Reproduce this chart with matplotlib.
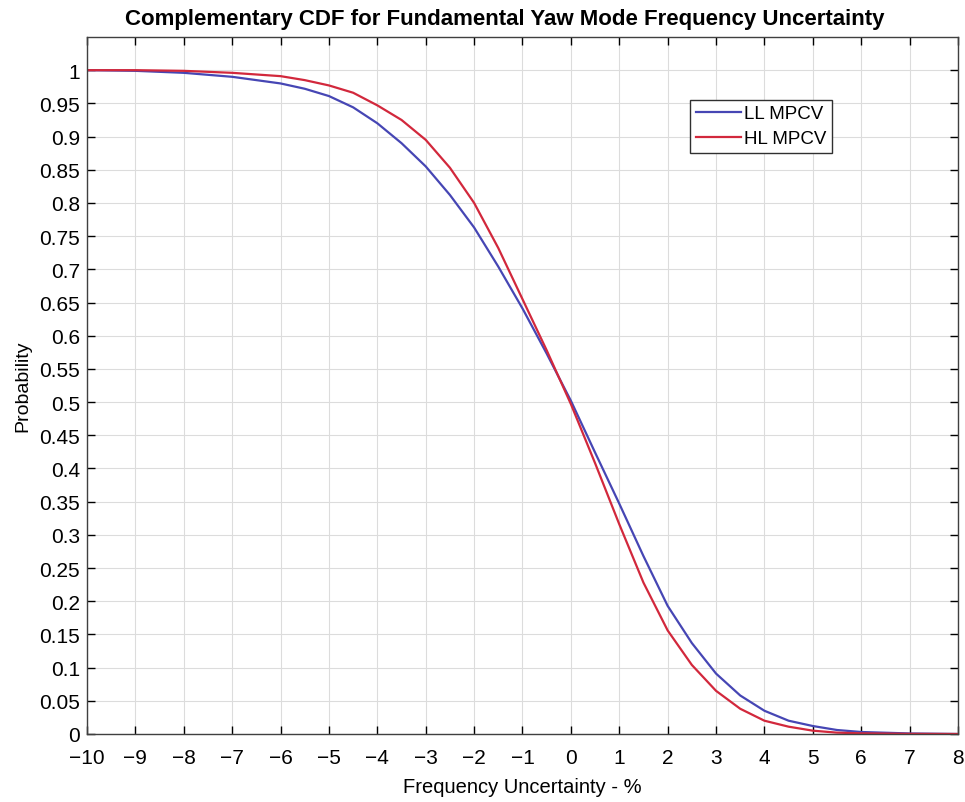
import numpy as np
import matplotlib.pyplot as plt
from matplotlib.ticker import FormatStrFormatter

plt.rcParams['font.family'] = ['Liberation Sans', 'DejaVu Sans']

# values
x_vals = [-10, -9, -8, -7, -6, -5.5, -5, -4.5, -4, -3.5, -3, -2.5, -2, -1.5, -1, -0.5,
          0, 0.5, 1, 1.5, 2, 2.5, 3, 3.5, 4, 4.5, 5, 5.5, 6, 7, 8]
ll_mpcv = [1.0, 0.999, 0.996, 0.990, 0.980, 0.972, 0.961, 0.944, 0.920, 0.890, 0.855,
           0.812, 0.763, 0.704, 0.641, 0.573, 0.502, 0.424, 0.347, 0.268, 0.193, 0.137,
           0.091, 0.058, 0.035, 0.020, 0.012, 0.006, 0.003, 0.0008, 0.0]
hl_mpcv = [1.0, 1.0, 0.999, 0.996, 0.991, 0.985, 0.977, 0.966, 0.947, 0.925, 0.895,
           0.853, 0.800, 0.732, 0.655, 0.578, 0.497, 0.408, 0.316, 0.228, 0.156, 0.104,
           0.065, 0.038, 0.020, 0.011, 0.005, 0.002, 0.001, 0.0002, 0.0]

fig = plt.figure(figsize=(9.65, 8.03), dpi=100)
ax = fig.add_axes([0.0902, 0.0847, 0.9025, 0.868])

ax.plot(x_vals, ll_mpcv, color='#4646b4', lw=1.6, label='LL MPCV')
ax.plot(x_vals, hl_mpcv, color='#d2283c', lw=1.6, label='HL MPCV')

ax.set_xlim(-10, 8)
ax.set_ylim(0, 1.05)
ax.set_xticks(np.arange(-10, 9, 1))
ax.set_yticks(np.arange(0, 1.0001, 0.05))
ax.yaxis.set_major_formatter(FormatStrFormatter('%g'))
ax.tick_params(direction='in', top=True, right=True, labelsize=15, length=6, width=1)
ax.tick_params(axis='x', pad=10)
ax.tick_params(axis='y', pad=5)
ax.grid(True, color='#dcdcdc', lw=0.8)
for s in ax.spines.values():
    s.set_color('#404040')
    s.set_linewidth(1)

ax.set_title('Complementary CDF for Fundamental Yaw Mode Frequency Uncertainty',
             fontsize=16, fontweight='bold', pad=9, x=0.48)
ax.set_xlabel('Frequency Uncertainty - %', fontsize=14.5, labelpad=7)
ax.set_ylabel('Probability', fontsize=14, labelpad=6)

leg = ax.legend(loc='upper right', bbox_to_anchor=(0.855, 0.91), fontsize=13.5,
                fancybox=False, framealpha=1, edgecolor='#303030', handlelength=2.4,
                borderpad=0.3, labelspacing=0.4, handletextpad=0.15, borderaxespad=0)
leg.get_frame().set_linewidth(1)

fig.savefig('out.png', dpi=100)
